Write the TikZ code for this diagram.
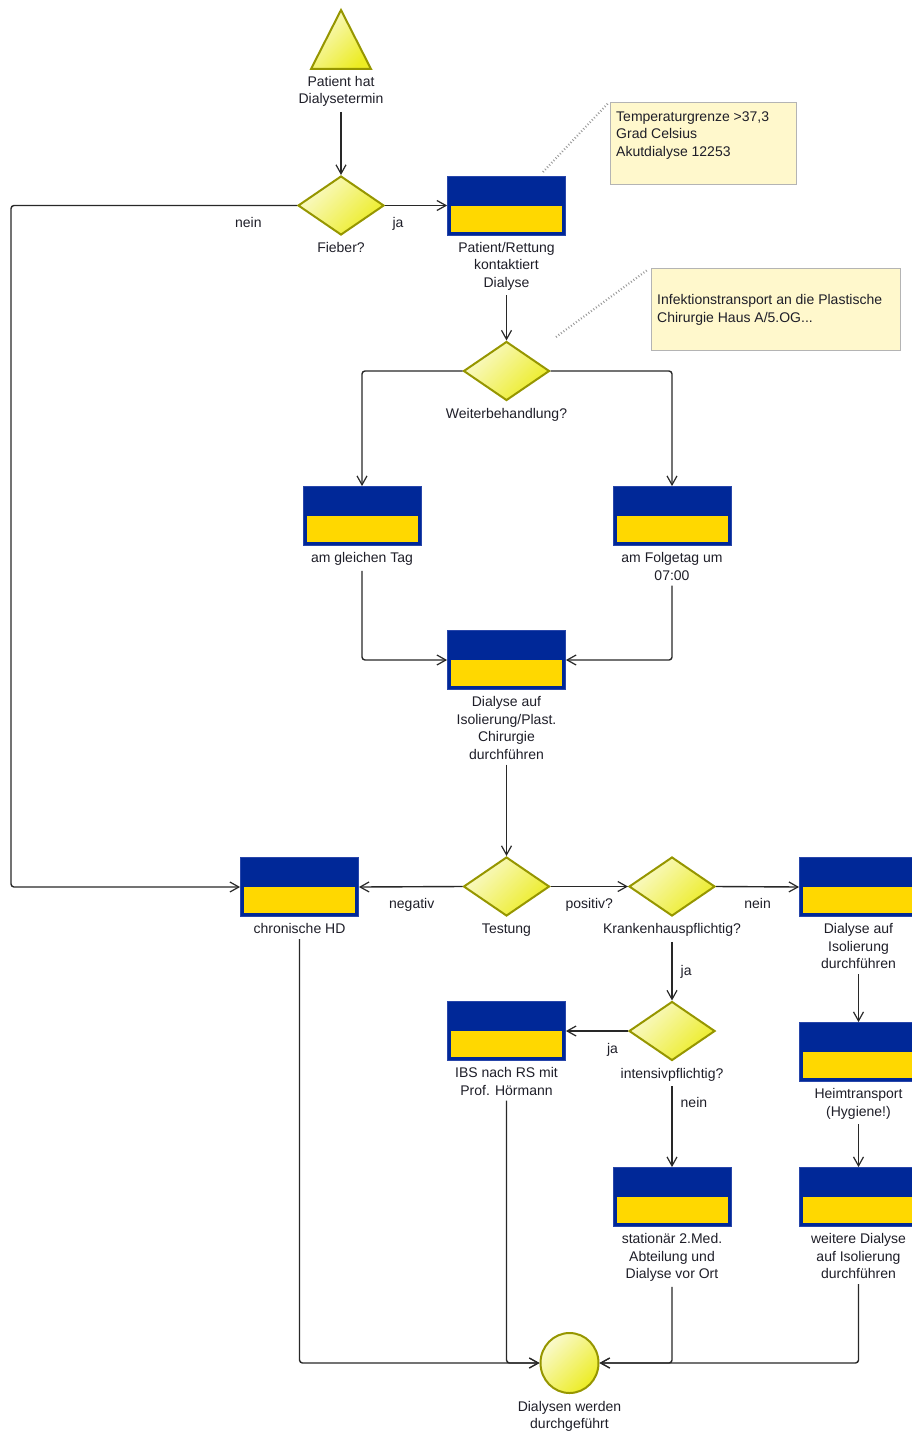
\documentclass[tikz,border=0pt]{standalone}
\usepackage{fontspec}
\setmainfont{Liberation Sans}
\usetikzlibrary{arrows.meta,shapes.geometric,positioning,calc}
\definecolor{actblue}{RGB}{0,40,152}
\definecolor{actedge}{RGB}{40,70,170}
\definecolor{actyellow}{RGB}{255,216,0}
\definecolor{evpale}{RGB}{250,250,205}
\definecolor{evdeep}{RGB}{236,236,35}
\definecolor{evedge}{RGB}{150,150,0}
\definecolor{notefill}{RGB}{255,248,204}
\definecolor{noteedge}{RGB}{180,180,180}
\definecolor{txt}{RGB}{30,30,40}
\definecolor{linecol}{RGB}{40,40,40}
\begin{document}
\begin{tikzpicture}[x=1pt,y=-1pt,
  every node/.style={font=\fontsize{14}{17.5}\selectfont, text=txt},
  act/.style={rectangle, fill=actblue, draw=actedge, line width=0.8pt, minimum width=118pt, minimum height=59pt, inner sep=0pt,
    path picture={\fill[actyellow] ([xshift=3.5pt,yshift=3.5pt]path picture bounding box.south west) rectangle ([xshift=-3.5pt,yshift=-29.5pt]path picture bounding box.north east);}},
  gate/.style={diamond, draw=evedge, line width=2pt, top color=evpale, bottom color=evdeep, shading angle=45, minimum width=86pt, minimum height=59pt, inner sep=0pt},
  endev/.style={ellipse, draw=evedge, line width=2pt, top color=evpale, bottom color=evdeep, shading angle=45, minimum width=58pt, minimum height=60pt, inner sep=0pt},
  lbl/.style={inner sep=0pt, align=center},
  note/.style={rectangle, fill=notefill, draw=noteedge, line width=0.8pt, inner sep=0pt},
  notetext/.style={inner sep=0pt, align=left, anchor=north west},
  notelink/.style={draw=black!40, line width=2.2pt, dash pattern=on 0.9pt off 2.2pt},
  flow/.style={draw=linecol, line width=1.4pt, rounded corners=3pt},
  arr/.style={flow, -{Straight Barb[length=9pt,width=10pt,line width=1.2pt]}},
  from/.style={shorten <=5pt},
  hl/.style={inner sep=0pt, anchor=base, yshift=-22pt},
  vl/.style={inner sep=0pt, anchor=west},
]
\useasboundingbox (0,0) rectangle (912,1434);
\clip (0,0) rectangle (912,1434);

% start event (triangle)
\path[draw=evedge, line width=2pt, top color=evpale, bottom color=evdeep, shading angle=45, line join=miter]
  (341,10) -- (371,69) -- (311,69) -- cycle;
\coordinate (start) at (341,69);
\node[lbl, below=7pt of start] (startl) {Patient hat\\Dialysetermin};

% gates
\node[gate] (fieber) at (341,205.5) {};
\node[lbl, below=6.5pt of fieber.south] (fieberl) {Fieber?};
\node[gate] (weiter) at (506.5,371) {};
\node[lbl, below=6.5pt of weiter.south] (weiterl) {Weiterbehandlung?};
\node[gate] (test) at (506.5,886.5) {};
\node[lbl, below=6.5pt of test.south] (testl) {Testung};
\node[gate] (kh) at (672,886.5) {};
\node[lbl, below=6.5pt of kh.south] (khl) {Krankenhauspflichtig?};
\node[gate] (intens) at (672,1031) {};
\node[lbl, below=6.5pt of intens.south] (intensl) {intensivpflichtig?};

% activities
\node[act] (kontakt) at (506.5,205.5) {};
\node[lbl, below=6.5pt of kontakt.south] (kontaktl) {Patient/Rettung\\kontaktiert\\Dialyse};
\node[act] (gleich) at (362,516) {};
\node[lbl, below=6.5pt of gleich.south] (gleichl) {am gleichen Tag};
\node[act] (folge) at (672,516) {};
\node[lbl, below=6.5pt of folge.south] (folgel) {am Folgetag um\\07:00};
\node[act] (dial) at (506.5,660) {};
\node[lbl, below=6.5pt of dial.south] (diall) {Dialyse auf\\Isolierung/Plast.\\Chirurgie\\durchführen};
\node[act] (chron) at (299.5,887) {};
\node[lbl, below=6.5pt of chron.south] (chronl) {chronische HD};
\node[act] (diso) at (858.5,887) {};
\node[lbl, below=6.5pt of diso.south] (disol) {Dialyse auf\\Isolierung\\durchführen};
\node[act] (ibs) at (506.5,1031) {};
\node[lbl, below=6.5pt of ibs.south] (ibsl) {IBS nach RS mit\\Prof. Hörmann};
\node[act] (heim) at (858.5,1052) {};
\node[lbl, below=6.5pt of heim.south] (heiml) {Heimtransport\\(Hygiene!)};
\node[act] (stat) at (672,1197) {};
\node[lbl, below=6.5pt of stat.south] (statl) {stationär 2.Med.\\Abteilung und\\Dialyse vor Ort};
\node[act] (weit) at (858.5,1197) {};
\node[lbl, below=6.5pt of weit.south] (weitl) {weitere Dialyse\\auf Isolierung\\durchführen};

% end event
\node[endev] (end) at (569.5,1363) {};
\node[lbl, below=7pt of end.south] (endl) {Dialysen werden\\durchgeführt};

% notes
\node[note, minimum width=186pt, minimum height=82pt] (n1) at (703,143) {};
\node[notetext] (n1t) at (616,111.5) {Temperaturgrenze >37,3\\Grad Celsius\\Akutdialyse 12253};
\node[note, minimum width=249pt, minimum height=82pt] (n2) at (775.5,309) {};
\node[notetext] (n2t) at (657,294.5) {Infektionstransport an die Plastische\\Chirurgie Haus A/5.OG...};
\coordinate (c1) at (543,172);
\coordinate (c2) at (556,337);
\draw[notelink, shorten >=3pt] (c1) -- (n1.north west);
\draw[notelink, shorten >=3pt] (c2) -- (n2.north west);

% rail
\coordinate (rail) at (11,0);

% connectors
\draw[arr, from] (startl.south) -- (fieber.north);
\draw[arr] (fieber.east) -- node[hl, pos=0.21] {ja} (kontakt.west);
\draw[arr] (fieber.west) -- node[hl, pos=0.17] {nein} (fieber.west -| rail) |- (chron.west);
\draw[arr, from] (kontaktl.south) -- (weiter.north);
\draw[arr] (weiter.west) -| (gleich.north);
\draw[arr] (weiter.east) -| (folge.north);
\draw[arr, from] (gleichl.south) |- (dial.west);
\draw[arr, from] (folgel.south) |- (dial.east);
\draw[arr, from] (diall.south) -- (test.north);
\draw[arr] (test.west) -- node[hl, pos=0.49] {negativ} (chron.east);
\draw[arr] (test.east) -- node[hl, pos=0.5] {positiv?} (kh.west);
\draw[arr] (kh.east) -- node[hl, pos=0.5] {nein} (diso.west);
\draw[arr, from] (khl.south) -- node[vl, pos=0.55, xshift=8pt] {ja} (intens.north);
\draw[arr] (intens.west) -- node[hl, pos=0.25] {ja} (ibs.east);
\draw[arr, from] (intensl.south) -- node[vl, pos=0.24, xshift=8pt] {nein} (stat.north);
\draw[arr, from] (disol.south) -- (heim.north);
\draw[arr, from] (heiml.south) -- (weit.north);
\draw[arr, from] (chronl.south) |- (end.west);
\draw[arr, from] (ibsl.south) |- (end.west);
\draw[arr, from] (statl.south) |- (end.east);
\draw[arr, from] (weitl.south) |- (end.east);
\end{tikzpicture}
\end{document}
